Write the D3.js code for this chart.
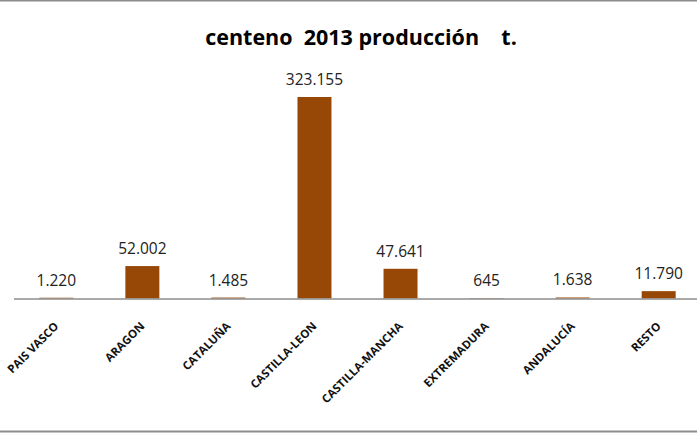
<!DOCTYPE html>
<html><head><meta charset="utf-8">
<script src="https://cdn.jsdelivr.net/npm/d3@7"></script>
<style>body{margin:0;background:#fff}svg{display:block}</style>
</head><body>
<script>
const categories = ["PAIS VASCO","ARAGON","CATALUÑA","CASTILLA-LEON","CASTILLA-MANCHA","EXTREMADURA","ANDALUCÍA","RESTO"];
const values = [1220, 52002, 1485, 323155, 47641, 645, 1638, 11790];
const valueLabels = ["1.220","52.002","1.485","323.155","47.641","645","1.638","11.790"];
const title = "centeno  2013 producción    t.";

const W = 697, H = 433;
const svg = d3.select("body").append("svg").attr("width", W).attr("height", H);

// chart border (top and bottom visible)
svg.append("rect").attr("x", -2).attr("y", 0.5).attr("width", W + 4).attr("height", 431)
  .attr("fill", "none").attr("stroke", "#8c8c8c").attr("stroke-width", 2);

const baseY = 298.5;
const x = d3.scaleBand().domain(categories).range([13.5, 701.5]).paddingInner(0.605).paddingOuter(0.3);
const y = d3.scaleLinear().domain([0, 323155]).range([baseY, 97]);

svg.append("text").attr("x", 361).attr("y", 45).attr("text-anchor", "middle")
  .attr("font-family", "Open Sans").attr("font-weight", "bold").attr("font-size", 21.5)
  .style("white-space", "pre").text(title);

svg.selectAll("rect.bar").data(values).enter().append("rect").attr("class", "bar")
  .attr("x", (d, i) => x(categories[i]))
  .attr("width", x.bandwidth())
  .attr("y", d => y(d))
  .attr("height", d => baseY - y(d))
  .attr("fill", "#974806");

// axis line
svg.append("line").attr("x1", 14).attr("x2", W).attr("y1", baseY + 0.5).attr("y2", baseY + 0.5)
  .attr("stroke", "#8c8c8c").attr("stroke-width", 1.5);

svg.selectAll("text.val").data(values).enter().append("text").attr("class", "val")
  .attr("x", (d, i) => x(categories[i]) + x.bandwidth() / 2)
  .attr("y", d => y(d) - 12)
  .attr("text-anchor", "middle")
  .attr("font-family", "Open Sans").attr("font-size", 15.5).attr("fill", "#222")
  .text((d, i) => valueLabels[i]);

svg.selectAll("text.cat").data(categories).enter().append("text").attr("class", "cat")
  .attr("transform", d => `translate(${x(d) + x.bandwidth() / 2 + 3},327) rotate(-45)`)
  .attr("text-anchor", "end")
  .attr("font-family", "Open Sans").attr("font-weight", "bold").attr("font-size", 11.5).attr("fill", "#111")
  .text(d => d);
</script>
</body></html>
